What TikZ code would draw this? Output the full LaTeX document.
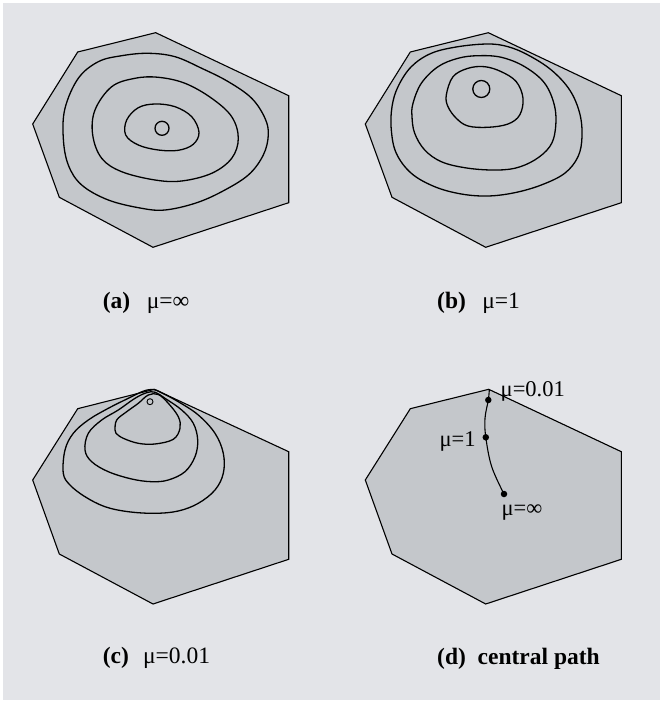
\documentclass[tikz,border=0pt]{standalone}
\usepackage{fontspec}
\setmainfont{Liberation Serif}
\definecolor{bgc}{HTML}{E3E4E8}
\definecolor{polyc}{HTML}{C4C7CB}
\begin{document}
\begin{tikzpicture}[x=1pt,y=-1pt,
  poly/.style={fill=polyc,draw=black,line width=1.1pt,line join=miter},
  contour/.style={draw=black,line width=1.3pt},
  captxt/.style={anchor=base west,inner sep=0pt,font=\fontsize{23.5}{28}\selectfont},
  mulab/.style={anchor=base west,inner sep=0pt,font=\fontsize{22.5}{27}\selectfont},
  dotn/.style={circle,fill=black,inner sep=0pt,minimum size=6.5pt}]
\useasboundingbox (0,0) rectangle (665,703);
\fill[white] (0,0) rectangle (665,703);
\fill[bgc] (3,3) rectangle (660,700);

% ---------- panel (a) ----------
\draw[poly] (155.7,32.7) -- (77.7,52) -- (32.7,124) -- (59.3,197.3) -- (153,247.3) -- (288.7,202.7) -- (288.7,95.7) -- cycle;
\draw[contour] plot[smooth cycle,tension=0.6] coordinates {(126.7,120) (138.3,107.7) (155,104) (175,106.7) (191.7,116.7) (199,132.3) (193.3,144.3) (178.3,150.3) (158.3,150) (138.3,145) (125.7,135)};
\draw[contour] plot[smooth cycle,tension=0.6] coordinates {(95,110) (111.7,86.7) (135,78.3) (158.3,77.3) (185,83.3) (211.7,98.3) (231.7,116.7) (238.3,138.3) (231.7,158.3) (211.7,173.3) (181.7,181) (155,180) (121.7,171.7) (101.7,158.3) (92.7,135)};
\draw[contour] plot[smooth cycle,tension=0.6] coordinates {(65,108.3) (78.3,78.3) (98.3,61.7) (121.7,55.7) (148.3,53.3) (175,56.7) (201.7,68.3) (228.3,81.7) (251.7,98.3) (265,118.3) (268.3,135) (263.3,155) (248.3,175) (221.7,191.7) (195,203.3) (165,210) (141.7,208.3) (108.3,200) (81.7,185) (68.3,165) (63.3,138.3)};
\draw[contour] (162,128.3) circle[radius=7];
\node[captxt] (capa) at (102.7,308) {\textbf{(a)}\hspace{0.7em}μ=∞};

% ---------- panel (b) ----------
\draw[poly] (488.3,32.7) -- (410.3,52) -- (365.3,124) -- (392,197.3) -- (485.7,247.3) -- (621.3,202.7) -- (621.3,95.7) -- cycle;
\draw[contour] plot[smooth cycle,tension=0.6] coordinates {(446.3,95) (453,76.7) (468,68.3) (484.7,66.7) (501.3,71.7) (516.3,81.7) (523,98.3) (519.7,115) (508,124) (488,127.3) (468,126) (456.3,118.3) (448,106.7)};
\draw[contour] plot[smooth cycle,tension=0.6] coordinates {(413,103.3) (421.3,83.3) (438,66.7) (458,58.3) (478,55.7) (501.3,57.3) (524.7,66.7) (544.7,83.3) (554.7,106.7) (555.3,130) (549.7,146.7) (534.7,160) (514.7,168.3) (491.3,170) (464.7,167.7) (441.3,161.7) (424.7,150) (414.7,133.3) (412,116.7)};
\draw[contour] plot[smooth cycle,tension=0.6] coordinates {(392,106.7) (398,86.7) (411.3,66.7) (431.3,53.3) (458,46.7) (488,44) (508,46.7) (528,55) (551.3,70) (569.7,90) (579.7,113.3) (582,136.7) (578,156.7) (564.7,173.3) (541.3,185) (514.7,192.7) (488,196) (461.3,194) (434.7,186.7) (411.3,173.3) (396.3,153.3) (391.3,130)};
\draw[contour] (481.3,89) circle[radius=8.5];
\node[captxt] (capb) at (437,308) {\textbf{(b)}\hspace{0.7em}μ=1};

% ---------- panel (c) ----------
\draw[poly] (154.3,389.3) -- (77.7,408.7) -- (32.7,480) -- (59.3,554) -- (153,604) -- (288.7,559.3) -- (288.7,451.7) -- cycle;
\draw[contour] plot[smooth cycle,tension=0.6] coordinates {(115,430) (116.7,420) (126.7,411.7) (138.3,403.3) (148.3,395) (158.3,394.5) (168.3,403.3) (178.3,416.7) (180,428.3) (173.3,439.3) (155,444) (138.3,443.3) (123.3,438.3) (116,433.3)};
\draw[contour] plot[smooth cycle,tension=0.6] coordinates {(85,450) (88.3,433.3) (101.7,420) (118.3,410) (135,398.3) (146.7,392.7) (155,392.2) (165,398.3) (181.7,410) (193.3,423.3) (197.7,440) (195,456.7) (185,471.7) (168.3,480) (151.7,481.7) (131.7,479) (108.3,471.7) (91.7,461.7)};
\draw[contour] plot[smooth cycle,tension=0.6] coordinates {(63.3,473.3) (65,450) (73.3,433.3) (88.3,420) (108.3,408.3) (128.3,398.3) (143.3,391.2) (153.3,389.5) (161.7,392.8) (178.3,401.7) (198.3,415) (215,433.3) (223.3,453.3) (223.3,473.3) (215,490) (198.3,503.3) (178.3,511) (155,513.3) (128.3,511.7) (105,506.7) (85,496.7) (70,485)};
\draw[line width=0.9pt] (150,401.7) circle[radius=3];
\node[captxt] (capc) at (102.7,663.5) {\textbf{(c)}\hspace{0.6em}μ=0.01};

% ---------- panel (d) ----------
\draw[poly] (488.7,389.3) -- (410.3,408.7) -- (365.3,480) -- (392,554) -- (485.7,604) -- (621.3,559.3) -- (621.3,451.7) -- cycle;
\coordinate (v) at (489.3,390);
\node[dotn] (p1) at (488.3,400) {};
\node[dotn] (p2) at (485.8,437.3) {};
\node[dotn] (p3) at (504,494) {};
\draw[line width=1.1pt] plot[smooth,tension=0.6] coordinates {(v) (p1) (485,418.3) (p2) (491.7,466.7) (p3)};
\node[mulab] (l1) at (500.5,396.5) {μ=0.01};
\node[mulab] (l2) at (439.3,446.5) {μ=1};
\node[mulab] (l3) at (501.3,515.5) {μ=∞};
\node[captxt] (capd) at (437,664.5) {\textbf{(d)\hspace{0.5em}central path}};
\end{tikzpicture}
\end{document}
